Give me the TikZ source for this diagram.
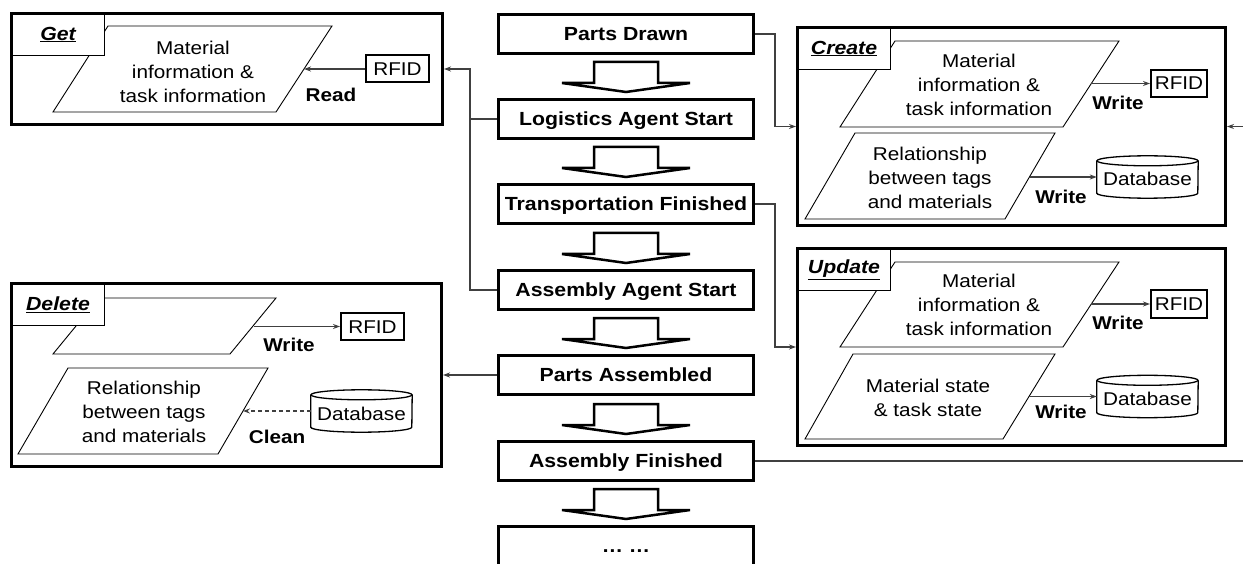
\documentclass[tikz,border=0pt]{standalone}
\usepackage{fontspec}
\setmainfont[FakeStretch=1.12]{Liberation Sans}
\usetikzlibrary{arrows.meta,calc}
\newcommand{\dbnode}[3]{%
  \node[inner sep=0pt, minimum width=101pt, minimum height=42pt] (#1) at (#2,#3) {};
  \node[font=\fontsize{18.5}{22}\selectfont, text height=13pt, text depth=0pt, inner sep=0pt] (#1-t) at ($(#1.center)+(0,2.5)$) {Database};
  \draw[line width=1.3pt] ($(#1.north)+(0,5)$) ellipse [x radius=50.5pt, y radius=5pt];
  \draw[line width=1.3pt] ($(#1.north west)+(0,5)$) -- ($(#1.south west)+(0,-5)$)
     arc[start angle=180, end angle=360, x radius=50.5pt, y radius=5pt] -- ($(#1.north east)+(0,5)$);
}
\begin{document}
\begin{tikzpicture}[x=1pt,y=-1pt,
  mainbox/.style={draw, line width=3pt, minimum width=255pt, minimum height=39pt, inner sep=0pt,
     text height=13.5pt, text depth=0pt, font=\fontsize{19}{23}\selectfont\bfseries},
  groupbox/.style={draw, line width=3pt, inner sep=0pt},
  lbl/.style={draw, fill=white, line width=1pt, inner sep=0pt, anchor=north west,
     minimum width=93pt, minimum height=42pt, font=\fontsize{19}{23}\selectfont\bfseries\itshape},
  para/.style={draw, line width=0.9pt, line join=miter},
  ptext/.style={align=center, inner sep=0pt, font=\fontsize{18.5}{24}\selectfont},
  rfid/.style={draw, line width=2pt, inner sep=0pt, minimum height=27pt, text height=13pt, text depth=0pt,
     font=\fontsize{18.5}{22}\selectfont},
  act/.style={inner sep=0pt, font=\fontsize{18.5}{22}\selectfont\bfseries},
  conn/.style={draw=black!75, line width=1.1pt},
  tip/.style={-{Stealth[length=7pt,width=5pt]}},
  blockarrow/.style={draw, line width=2.5pt, line join=miter, fill=white},
]
\clip (0,0) rectangle (1243,564);
\fill[white] (0,0) rectangle (1243,564);

% ---------- central flow ----------
\node[mainbox] (pd) at (626,34)  {Parts Drawn};
\node[mainbox] (la) at (626,119) {Logistics Agent Start};
\node[mainbox] (tf) at (626,204) {Transportation Finished};
\node[mainbox] (aa) at (626,290) {Assembly Agent Start};
\node[mainbox] (pa) at (626,375) {Parts Assembled};
\node[mainbox] (af) at (626,461) {Assembly Finished};
\node[mainbox] (mo) at (626,546) {\textbf{… …}};

\foreach \u/\l in {pd/la, la/tf, tf/aa, aa/pa, pa/af, af/mo}{
  \draw[blockarrow] ($(\l.north)+(-32,-36)$) -- ($(\l.north)+(32,-36)$) -- ($(\l.north)+(32,-15)$)
     -- ($(\l.north)+(64,-15)$) -- ($(\l.north)+(0,-6)$) -- ($(\l.north)+(-64,-15)$)
     -- ($(\l.north)+(-32,-15)$) -- cycle;
}

% ---------- Get ----------
\draw[para] (108,26) -- (332,26) -- (276,112) -- (53,112) -- cycle;
\node[ptext] (gtxt) at (193,72) {Material\\information \&\\task information};
\node[rfid, minimum width=63pt] (grfid) at (397.5,69) {RFID};
\coordinate (gpr) at (304,69);
\node[act] (gread) at (331,95) {Read};
\node[lbl] (glbl) at (11,13) {\underline{Get}};
\node[groupbox, minimum width=431pt, minimum height=111pt] (get) at (227,69) {};

% ---------- Create ----------
\draw[para] (895,41) -- (1119,41) -- (1063,127) -- (840,127) -- cycle;
\node[ptext] (ctxt1) at (979,85) {Material\\information \&\\task information};
\node[rfid, minimum width=56pt] (crfid) at (1179,83.5) {RFID};
\coordinate (cpr1) at (1091,83.5);
\node[act] (cw1) at (1118,103) {Write};
\draw[para] (855,133) -- (1055,133) -- (1005,219) -- (805,219) -- cycle;
\node[ptext] (ctxt2) at (930,178) {Relationship\\between tags\\and materials};
\dbnode{cdb}{1147.5}{177}
\coordinate (cpr2) at (1030,177);
\node[act] (cw2) at (1061,197) {Write};
\node[lbl] (clbl) at (797,27) {\underline{Create}};
\node[groupbox, minimum width=428pt, minimum height=198pt] (create) at (1011.5,126.5) {};

% ---------- Update ----------
\draw[para] (895,262) -- (1119,262) -- (1063,347) -- (840,347) -- cycle;
\node[ptext] (utxt1) at (979,305) {Material\\information \&\\task information};
\node[rfid, minimum width=56pt] (urfid) at (1179,304) {RFID};
\coordinate (upr1) at (1091,304);
\node[act] (uw1) at (1118,323) {Write};
\draw[para] (853,354) -- (1055,354) -- (1003,439) -- (805,439) -- cycle;
\node[ptext] (utxt2) at (928,398) {Material state\\\& task state};
\dbnode{udb}{1147.5}{396.5}
\coordinate (upr2) at (1029,396.5);
\node[act] (uw2) at (1061,412) {Write};
\node[lbl] (ulbl) at (797,248) {\underline{Update}};
\node[groupbox, minimum width=428pt, minimum height=197pt] (update) at (1011.5,347) {};

% ---------- Delete ----------
\draw[para] (99,298) -- (276,298) -- (230,354) -- (53,354) -- cycle;
\node[rfid, minimum width=63pt] (drfid) at (372.5,326.5) {RFID};
\coordinate (dpr1) at (254,326.5);
\node[act] (dw1) at (289,345) {Write};
\draw[para] (68,368) -- (268,368) -- (218,454) -- (18,454) -- cycle;
\node[ptext] (dtxt2) at (144,412) {Relationship\\between tags\\and materials};
\dbnode{ddb}{361.5}{411}
\coordinate (dpr2) at (243,411);
\node[act] (dclean) at (277,437) {Clean};
\node[lbl] (dlbl) at (11,283) {\underline{Delete}};
\node[groupbox, minimum width=430pt, minimum height=183pt] (delete) at (226.5,375) {};

% ---------- inner connectors ----------
\draw[conn,tip] (grfid.west) -- (gpr);
\draw[conn,tip] (cpr1) -- (crfid.west);
\draw[conn,tip] (cpr2) -- (cdb.west |- cpr2);
\draw[conn,tip] (upr1) -- (urfid.west);
\draw[conn,tip] (upr2) -- (udb.west |- upr2);
\draw[conn,tip] (dpr1) -- (drfid.west);
\draw[conn,tip,dash pattern=on 4pt off 3pt] (ddb.west |- dpr2) -- (dpr2);

% ---------- outer connectors ----------
\coordinate (getin) at (get.east |- grfid.center);
\coordinate (rightend) at (1243,0);
\draw[conn,tip] (la.west) -- ++(-27,0) |- (getin);
\draw[conn] (aa.west) -| ($(la.west)+(-27,0)$);
\draw[conn,tip] (pd.east) -- ++(20,0) |- (create.west);
\draw[conn,tip] (tf.east) -- ++(20,0) |- (update.west);
\draw[conn,tip] (pa.west) -- (pa.west -| delete.east);
\draw[conn] (af.east) -- (af.east -| rightend);
\draw[conn,tip] (rightend |- create.east) -- (create.east);
\end{tikzpicture}
\end{document}
